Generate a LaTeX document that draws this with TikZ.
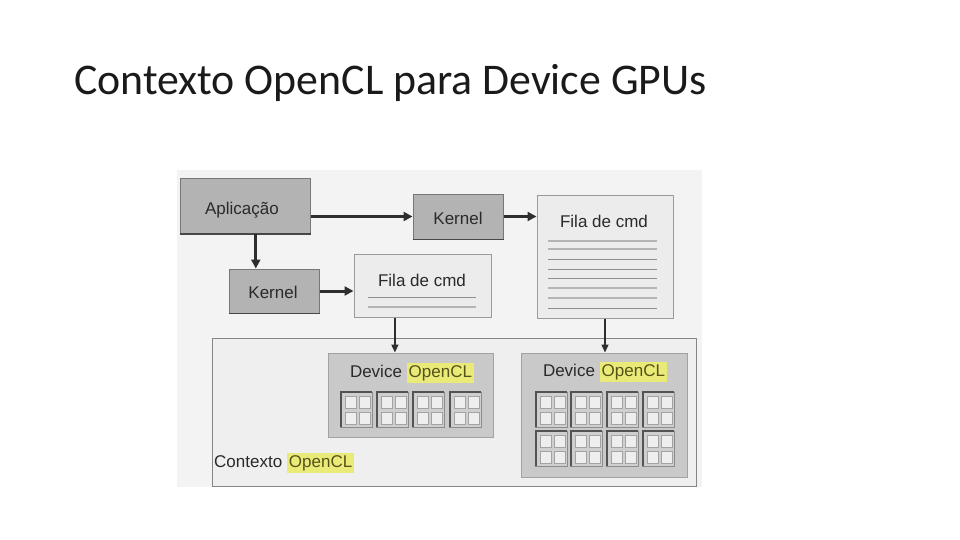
\documentclass[tikz,border=0pt]{standalone}
\usepackage{fontspec}
\setmainfont{Carlito}
\newfontfamily\diagfont{Liberation Sans}
\usetikzlibrary{arrows.meta,calc}
\definecolor{bgpic}{HTML}{F3F3F3}
\definecolor{darkbox}{HTML}{B3B3B3}
\definecolor{darkedge}{HTML}{777777}
\definecolor{lightbox}{HTML}{ECECEC}
\definecolor{lightedge}{HTML}{9A9A9A}
\definecolor{ctxfill}{HTML}{EFEFEF}
\definecolor{ctxedge}{HTML}{858585}
\definecolor{devfill}{HTML}{C9C9C9}
\definecolor{devedge}{HTML}{A2A2A2}
\definecolor{cellfill}{HTML}{CFCFCF}
\definecolor{celledge}{HTML}{8C8C8C}
\definecolor{sqfill}{HTML}{EEEEEE}
\definecolor{hlyellow}{HTML}{EAEA78}
\definecolor{hltext}{HTML}{55531A}
\definecolor{txtgray}{HTML}{2A2A2A}
\definecolor{arrowcol}{HTML}{2E2E2E}
\definecolor{linedark}{HTML}{8E8E8E}
\definecolor{linelight}{HTML}{B4B4B4}
\definecolor{titlecol}{HTML}{1A1A1A}
\tikzset{
  lbl/.style={font=\diagfont\fontsize{17}{20}\selectfont, text=txtgray, inner sep=0pt},
  darkrect/.style={draw=darkedge, fill=darkbox, line width=1pt, inner sep=0pt},
  lightrect/.style={draw=lightedge, fill=lightbox, line width=1pt, inner sep=0pt},
  ctxrect/.style={draw=ctxedge, fill=ctxfill, line width=1pt, inner sep=0pt},
  devrect/.style={draw=devedge, fill=devfill, line width=1pt, inner sep=0pt},
  thickarrow/.style={draw=arrowcol, line width=3pt, -{Triangle[length=9pt,width=9pt]}},
  thinarrow/.style={draw=arrowcol, line width=1.5pt, -{Triangle[length=8pt,width=7pt]}},
  cellbox/.style={draw=celledge, fill=cellfill, line width=1pt},
  sqbox/.style={draw=celledge!80, fill=sqfill, line width=0.8pt},
}
\newcommand{\mycell}[2]{%
  \path[cellbox] (#1,#2) rectangle ++(32,35);
  \draw[darkedge!70!black, line width=1.5pt] (#1+0.75,#2+35) -- (#1+0.75,#2) -- (#1+32,#2);
  \path[sqbox] (#1+5,#2+4) rectangle ++(11,12);
  \path[sqbox] (#1+19,#2+4) rectangle ++(11,12);
  \path[sqbox] (#1+5,#2+20) rectangle ++(11,12);
  \path[sqbox] (#1+19,#2+20) rectangle ++(11,12);
}
\newcommand{\hlword}[1]{{\setlength{\fboxsep}{2pt}\colorbox{hlyellow}{\color{hltext}#1}}}
\begin{document}
\begin{tikzpicture}[x=1pt,y=-1pt]
\useasboundingbox[fill=white] (0,0) rectangle (960,540);

% title
\node[anchor=base west, inner sep=0pt, text=titlecol, font=\fontsize{43.8}{48}\selectfont] (title) at (74,95) {Contexto OpenCL para Device GPUs};

% picture background
\path[fill=bgpic] (177,170) rectangle (702,487);

% context box
\node[ctxrect, minimum width=484pt, minimum height=148pt] (ctx) at (454,412) {};
\node[lbl, anchor=west] (ctxlbl) at (214,463) {Contexto \hlword{OpenCL}};

% nodes
\node[darkrect, minimum width=130pt, minimum height=54pt] (apl) at (245,206) {};
\draw[darkedge!60!black, line width=2pt] (apl.south west) -- (apl.south east);
\node[lbl] (apltxt) at (242,210) {Aplicação};

\node[darkrect, minimum width=90pt, minimum height=45pt] (ktop) at (458,216.5) {};
\draw[darkedge!60!black, line width=1.5pt] (ktop.south west) -- (ktop.south east);
\node[lbl] (ktoptxt) at (458,218) {Kernel};

\node[darkrect, minimum width=90pt, minimum height=44pt] (klow) at (274,291) {};
\draw[darkedge!60!black, line width=1.5pt] (klow.south west) -- (klow.south east);
\node[lbl] (klowtxt) at (273,292) {Kernel};

\node[lightrect, minimum width=137pt, minimum height=63pt] (fsmall) at (422.5,285.5) {};
\node[lbl] (fsmalltxt) at (422,280) {Fila de cmd};
\draw[linedark, line width=1pt] (368,297) -- (476,297);
\draw[linelight, line width=2.5pt] (368,307) -- (476,307);

\node[lightrect, minimum width=136pt, minimum height=123pt] (fbig) at (605,256.5) {};
\node[lbl] (fbigtxt) at (604,221) {Fila de cmd};
\foreach \yy/\cc/\ww in {241/linelight/2.2, 249/linelight/2.2, 259/linedark/1, 269/linedark/1, 278/linedark/1, 288/linelight/2.2, 298/linelight/2.2, 308/linedark/1}{
  \draw[\cc, line width=\ww pt] (548,\yy) -- (657,\yy);
}

% devices
\node[devrect, minimum width=165pt, minimum height=84pt] (devL) at (410.5,395) {};
\node[lbl] (devLtxt) at (412,373) {Device \hlword{OpenCL}};
\foreach \xx in {340,376,412,449}{ \mycell{\xx}{392} }

\node[devrect, minimum width=166pt, minimum height=124pt] (devR) at (604,415) {};
\node[lbl] (devRtxt) at (605,372) {Device \hlword{OpenCL}};
\foreach \xx in {535,570,606,642}{ \mycell{\xx}{392} \mycell{\xx}{431} }

% connectors
\draw[thickarrow] (apl.east |- ktop.west) -- (ktop.west);
\coordinate (kin) at ($(klow.north west)!0.3!(klow.north east)$);
\draw[thickarrow] (apl.south -| kin) -- (kin);
\draw[thickarrow] (klow.east) -- (klow.east -| fsmall.west);
\draw[thickarrow] (ktop.east) -- (ktop.east -| fbig.west);
\coordinate (fout) at ($(fsmall.south west)!0.3!(fsmall.south east)$);
\draw[thinarrow] (fout) -- (fout |- devL.north);
\draw[thinarrow] (fbig.south) -- (fbig.south |- devR.north);
\end{tikzpicture}
\end{document}
